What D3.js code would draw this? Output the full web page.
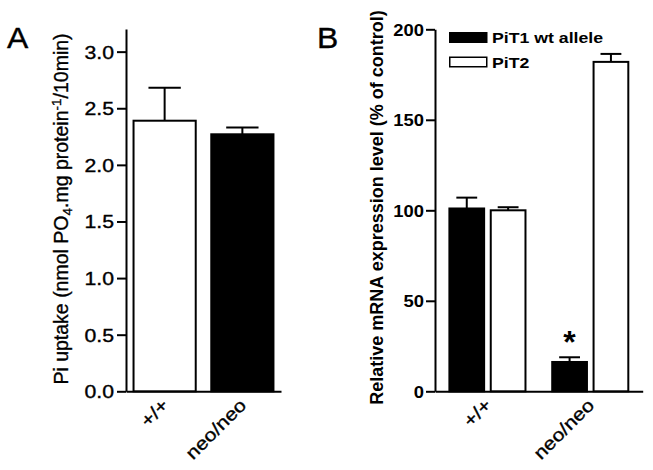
<!DOCTYPE html>
<html>
<head>
<meta charset="utf-8">
<script src="https://cdn.jsdelivr.net/npm/d3@7"></script>
<style>
  body { margin: 0; background: #fff; }
  svg { font-family: "Liberation Sans", Arial, sans-serif; }
  .domain, .tick line { stroke: #000; stroke-width: 2; }
  .heavy { stroke: #000; stroke-width: 0.35; }
</style>
</head>
<body>
<script>
// panel A: Pi uptake
const genotypes = ["+/+", "neo/neo"];
const uptakeMean = [2.39, 2.27];
const uptakeSem = [0.29, 0.06];
const uptakeTicks = [0, 0.5, 1, 1.5, 2, 2.5, 3];

// panel B: relative mRNA expression
const series = ["PiT1 wt allele", "PiT2"];
const pit1Mean = [101, 16.2];
const pit1Sem = [6, 2.6];
const pit2Mean = [100, 182];
const pit2Sem = [1.7, 4.4];
const mrnaTicks = [0, 50, 100, 150, 200];
const seriesFill = ["#000", "#fff"];

const width = 653, height = 470;

const svg = d3.select("body").append("svg")
  .attr("width", width)
  .attr("height", height);

// ---------- panel A ----------
const gA = svg.append("g");
const yA = d3.scaleLinear().domain([0, 3.2]).range([391.3, 29]);
const xA = d3.scaleBand().domain(genotypes).range([126, 281])
  .paddingInner(0.2).paddingOuter(0.097);

gA.append("g")
  .attr("transform", "translate(126,0)")
  .call(d3.axisLeft(yA).tickValues(uptakeTicks).tickFormat(d3.format(".1f"))
    .tickSize(9).tickSizeOuter(0).tickPadding(3))
  .call(g => g.selectAll("text")
    .attr("x", null).attr("dy", "0.36em")
    .attr("class", "heavy")
    .attr("transform", "translate(-12,0) scale(1.18,1)")
    .attr("font-size", 18).attr("fill", "#000"));

gA.append("g")
  .attr("transform", "translate(0,391.3)")
  .call(d3.axisBottom(xA).tickSize(0).tickSizeOuter(0))
  .call(g => g.selectAll("text")
    .attr("y", null).attr("dy", null)
    .attr("class", "heavy")
    .attr("text-anchor", "end")
    .attr("transform", "translate(5,15) rotate(-45) scale(1.18,1)")
    .attr("font-size", 18).attr("fill", "#000"));

const barsA = genotypes.map((g, i) => ({ g, mean: uptakeMean[i], sem: uptakeSem[i], fill: i === 0 ? "#fff" : "#000" }));

gA.selectAll("line.err").data(barsA).join("line")
  .attr("class", "err")
  .attr("x1", d => xA(d.g) + xA.bandwidth() / 2)
  .attr("x2", d => xA(d.g) + xA.bandwidth() / 2)
  .attr("y1", d => yA(d.mean))
  .attr("y2", d => yA(d.mean + d.sem))
  .attr("stroke", "#000").attr("stroke-width", 2);

gA.selectAll("line.cap").data(barsA).join("line")
  .attr("class", "cap")
  .attr("x1", d => xA(d.g) + xA.bandwidth() * 0.24)
  .attr("x2", d => xA(d.g) + xA.bandwidth() * 0.76)
  .attr("y1", d => yA(d.mean + d.sem))
  .attr("y2", d => yA(d.mean + d.sem))
  .attr("stroke", "#000").attr("stroke-width", 2);

gA.selectAll("rect.bar").data(barsA).join("rect")
  .attr("class", "bar")
  .attr("x", d => xA(d.g))
  .attr("y", d => yA(d.mean))
  .attr("width", xA.bandwidth())
  .attr("height", d => yA(0) - yA(d.mean))
  .attr("fill", d => d.fill)
  .attr("stroke", "#000").attr("stroke-width", 2);

const labA = gA.append("text")
  .attr("class", "heavy")
  .attr("transform", "translate(68,209) rotate(-90)")
  .attr("text-anchor", "middle")
  .attr("font-size", 19.5);
labA.append("tspan").text("Pi uptake (nmol PO");
labA.append("tspan").attr("font-size", 13.5).attr("dy", 4).text("4");
labA.append("tspan").attr("dy", -4).text(".mg protein");
labA.append("tspan").attr("font-size", 13.5).attr("dy", -7).text("-1");
labA.append("tspan").attr("dy", 7).text("/10min)");

svg.append("text")
  .attr("class", "heavy")
  .attr("transform", "translate(7,48) scale(1.1,1)")
  .attr("font-size", 29).text("A");

// ---------- panel B ----------
const gB = svg.append("g");
const yB = d3.scaleLinear().domain([0, 200]).range([391.3, 29.3]);
const xB = d3.scaleBand().domain(genotypes).range([435, 642.7])
  .paddingInner(0.26).paddingOuter(0.14);
const xSub = d3.scaleBand().domain(series).range([0, xB.bandwidth()]).paddingInner(0.16);

gB.append("g")
  .attr("transform", "translate(435,0)")
  .call(d3.axisLeft(yB).tickValues(mrnaTicks)
    .tickSize(9).tickSizeOuter(0).tickPadding(2))
  .call(g => g.selectAll("text")
    .attr("x", null).attr("dy", "0.36em")
    .attr("transform", "translate(-11,0) scale(1.15,1)")
    .attr("font-size", 16).attr("font-weight", "bold").attr("fill", "#000"));

gB.append("g")
  .attr("transform", "translate(0,391.3)")
  .call(d3.axisBottom(xB).tickSize(0).tickSizeOuter(0))
  .call(g => g.selectAll("text")
    .attr("y", null).attr("dy", null)
    .attr("class", "heavy")
    .attr("text-anchor", "end")
    .attr("transform", "translate(5,15) rotate(-45) scale(1.18,1)")
    .attr("font-size", 18).attr("fill", "#000"));

const barsB = [];
genotypes.forEach((g, i) => {
  barsB.push({ g, s: series[0], mean: pit1Mean[i], sem: pit1Sem[i], fill: seriesFill[0] });
  barsB.push({ g, s: series[1], mean: pit2Mean[i], sem: pit2Sem[i], fill: seriesFill[1] });
});
const bx = d => xB(d.g) + xSub(d.s);
const bw = xSub.bandwidth();

gB.selectAll("line.err").data(barsB).join("line")
  .attr("class", "err")
  .attr("x1", d => bx(d) + bw / 2)
  .attr("x2", d => bx(d) + bw / 2)
  .attr("y1", d => yB(d.mean))
  .attr("y2", d => yB(d.mean + d.sem))
  .attr("stroke", "#000").attr("stroke-width", 2);

gB.selectAll("line.cap").data(barsB).join("line")
  .attr("class", "cap")
  .attr("x1", d => bx(d) + bw * 0.2)
  .attr("x2", d => bx(d) + bw * 0.8)
  .attr("y1", d => yB(d.mean + d.sem))
  .attr("y2", d => yB(d.mean + d.sem))
  .attr("stroke", "#000").attr("stroke-width", 2);

gB.selectAll("rect.bar").data(barsB).join("rect")
  .attr("class", "bar")
  .attr("x", bx)
  .attr("y", d => yB(d.mean))
  .attr("width", bw)
  .attr("height", d => yB(0) - yB(d.mean))
  .attr("fill", d => d.fill)
  .attr("stroke", "#000").attr("stroke-width", 2);

// significance mark over PiT1 in neo/neo
const starBar = barsB[2];
gB.append("text")
  .attr("x", bx(starBar) + bw / 2)
  .attr("y", yB(starBar.mean + starBar.sem) - 4)
  .attr("text-anchor", "middle")
  .attr("font-size", 32).attr("font-weight", "bold")
  .text("*");

gB.append("text")
  .attr("transform", "translate(383,207.5) rotate(-90)")
  .attr("text-anchor", "middle")
  .attr("font-size", 18).attr("font-weight", "bold")
  .text("Relative mRNA expression level (% of control)");

const legend = gB.selectAll("g.leg").data(series).join("g")
  .attr("class", "leg")
  .attr("transform", (d, i) => `translate(449,${32 + i * 24.5})`);
legend.append("rect")
  .attr("x", 0.75).attr("y", 0.75)
  .attr("width", 37).attr("height", 9.5)
  .attr("fill", (d, i) => seriesFill[i])
  .attr("stroke", "#000").attr("stroke-width", 1.5);
legend.append("text")
  .attr("transform", "translate(43,11) scale(1.18,1)")
  .attr("font-size", 15).attr("font-weight", "bold")
  .text(d => d);

svg.append("text")
  .attr("class", "heavy")
  .attr("transform", "translate(317,48) scale(1.1,1)")
  .attr("font-size", 29).text("B");
</script>
</body>
</html>
